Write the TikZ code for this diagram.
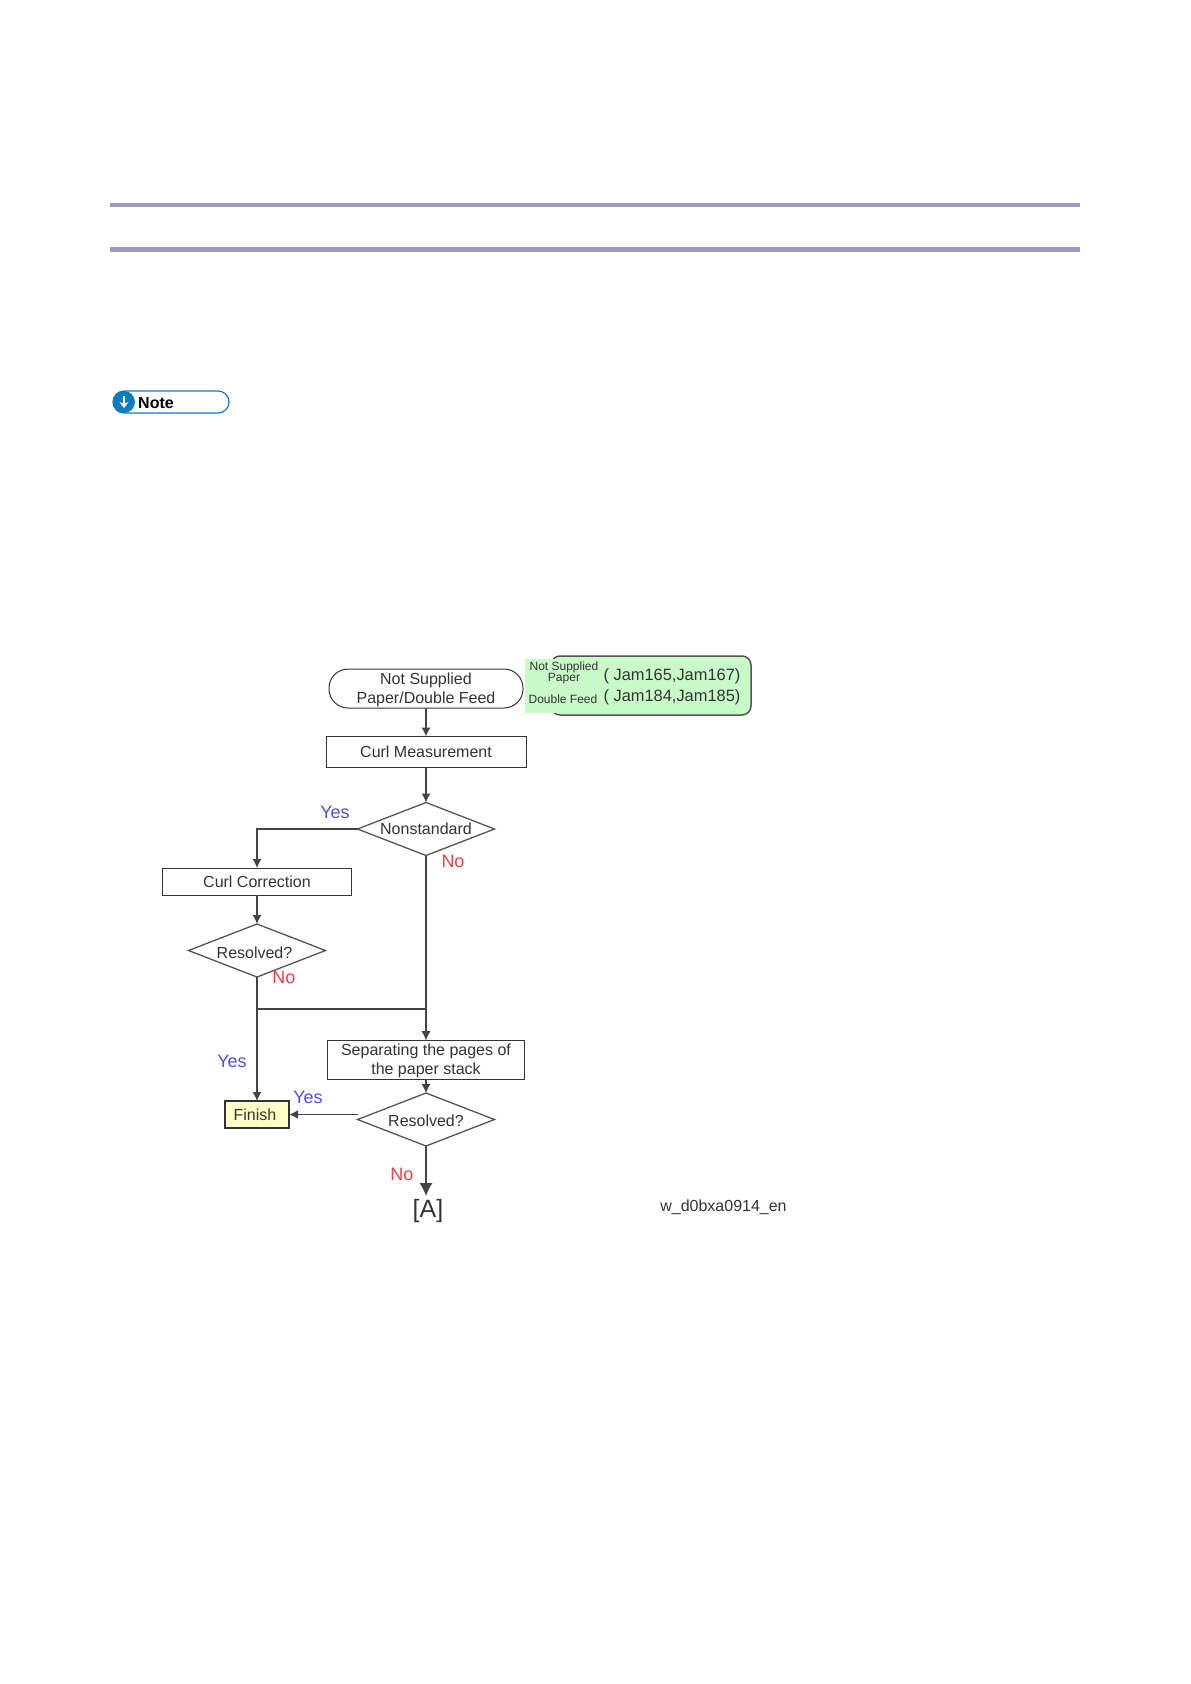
\documentclass[tikz,border=0pt]{standalone}
\usepackage{fontspec}
\setmainfont{Liberation Sans}
\usetikzlibrary{arrows,arrows.meta,shapes.geometric,positioning}
\definecolor{lpurple}{RGB}{158, 152, 198}
\definecolor{lgreen}{RGB}{200, 251, 200}
\definecolor{lyellow}{RGB}{255, 255, 200}
\definecolor{nblue}{RGB}{15, 124, 191}
\definecolor{dgray}{RGB}{51, 51, 51}
\definecolor{mgray}{RGB}{85, 85, 85}
\definecolor{lgray}{RGB}{68, 68, 68}
\newcommand{\px}[1]{\fontsize{#1}{19.5}\selectfont}
\newcommand{\dn}[1]{\rule{0pt}{#1}}
\tikzstyle{base} = [inner sep=0pt, outer sep=0pt, text=dgray, align=center, font=\px{16}]
\tikzstyle{block} = [base, rectangle, draw=dgray, line width=1pt]
\tikzstyle{decision} = [base, diamond, aspect=2.5, draw=mgray, line width=1.3pt,
  minimum width=137pt, minimum height=53pt]
\tikzstyle{line} = [draw=lgray, line width=1.2pt, -{Latex[length=9pt,width=9pt]}]
\tikzstyle{plain} = [draw=lgray, line width=1.2pt]
\tikzstyle{yes} = [inner sep=0pt, text={rgb,255:red,80;green,80;blue,225}, font=\px{18}]
\tikzstyle{no} = [inner sep=0pt, text={rgb,255:red,240;green,64;blue,64}, font=\px{18}]
\tikzstyle{jam} = [inner sep=0pt, text=dgray, font=\px{16.4}]
\tikzstyle{small} = [inner sep=0pt, text=dgray, align=center, font=\fontsize{12}{11}\selectfont]

\begin{document}
\begin{tikzpicture}[x=1pt,y=-1pt]

  \useasboundingbox (0,0) rectangle (1191,1684);

  %%%%%%%%%%%%%%%%%%%%%%%%%%%%%%%%%%%%%%%%%%%%%%%%%%%%%%%%%%%%%%
  %                    PAGE HEADER                             %
  %%%%%%%%%%%%%%%%%%%%%%%%%%%%%%%%%%%%%%%%%%%%%%%%%%%%%%%%%%%%%%

  \fill[lpurple] (110,203) rectangle (1080,207);
  \fill[lpurple] (110,247) rectangle (1080,252);

  \node [rectangle, draw=nblue, line width=1.2pt, rounded corners=11pt, inner sep=0pt,
    minimum width=116pt, minimum height=22pt] (note-pill) at (171,402) {};
  \node [circle, fill=nblue, inner sep=0pt, minimum size=22pt] (note-icon) at (124,402) {};
  \draw[white, line width=2.5pt, -{Stealth[length=6pt,width=9pt]}] (124,396) -- (124,408);
  \node [inner sep=0pt, font=\px{16}\bfseries, text=black] (note-text) at (156,403) {Note};

  %%%%%%%%%%%%%%%%%%%%%%%%%%%%%%%%%%%%%%%%%%%%%%%%%%%%%%%%%%%%%%
  %                    JAM CODES                               %
  %%%%%%%%%%%%%%%%%%%%%%%%%%%%%%%%%%%%%%%%%%%%%%%%%%%%%%%%%%%%%%

  \node [rectangle, rounded corners=9pt, draw=mgray, line width=1.5pt, fill=lgreen,
    inner sep=0pt, minimum width=200pt, minimum height=59pt] (jam-box) at (651,685.5) {};
  \fill[lgreen] (525,659) rectangle (562,713);
  \node [small] (jam-paper) at (564,672.5) {Not Supplied\\Paper};
  \node [small] (jam-feed) at (563,699) {Double Feed};
  \node [jam] (jam-paper-codes) at (672,676) {( Jam165,Jam167)};
  \node [jam] (jam-feed-codes) at (672,697) {( Jam184,Jam185)};

  %%%%%%%%%%%%%%%%%%%%%%%%%%%%%%%%%%%%%%%%%%%%%%%%%%%%%%%%%%%%%%
  %                    FLOW                                    %
  %%%%%%%%%%%%%%%%%%%%%%%%%%%%%%%%%%%%%%%%%%%%%%%%%%%%%%%%%%%%%%

  \node [block, rounded corners=19pt, minimum width=194pt, minimum height=39pt]
    (start) at (426,688.5) {\dn{14pt}Not Supplied\\Paper/Double Feed};
  \node [block, minimum width=200pt, minimum height=31pt]
    (curl-measurement) at (426,752) {Curl Measurement};
  \node [decision] (nonstandard) at (426,829) {Nonstandard};
  \node [block, minimum width=189pt, minimum height=27pt]
    (curl-correction) at (257,881.5) {Curl Correction};
  \node [decision] (resolved-first) at (257,950.5) {\dn{16pt}Resolved?\hspace*{5pt}};
  \node [block, minimum width=197pt, minimum height=39pt]
    (separating) at (426,1059.5) {\dn{14.5pt}Separating the pages of\\the paper stack};
  \node [decision] (resolved-second) at (426,1119.5) {\dn{14pt}Resolved?};
  \node [block, fill=lyellow, line width=1.5pt, minimum width=64pt, minimum height=27pt]
    (finish) at (257,1114.5) {Finish\hspace*{4pt}};
  \node [inner sep=0pt, text=dgray, font=\px{25}] (result) at (428,1211) {[A]};
  \node [inner sep=0pt, text=dgray, font=\px{16}] (drawing-id) at (723.5,1207) {w\_d0bxa0914\_en};

  \coordinate (merge) at (257,1009);
  \coordinate (resolved-yes) at (358,1114.5);

  \draw[line] (start) -- (curl-measurement);
  \draw[line] (curl-measurement) -- (nonstandard);
  \draw[line] (nonstandard.west) -| (curl-correction.north);
  \draw[line] (curl-correction) -- (resolved-first);
  \draw[line] (nonstandard.south) -- (separating.north);
  \draw[plain, line width=1.8pt] (resolved-first.south) -- (merge);
  \draw[line] (merge) -- (finish.north);
  \draw[line] (merge) -| (separating.north);
  \draw[line] (separating) -- (resolved-second);
  \draw[line, line width=1.6pt] (resolved-yes) -- (finish.east);
  \draw[draw=lgray, line width=1.6pt, shorten >=3pt, -{Latex[length=13pt,width=13pt]}]
    (resolved-second.south) -- (resolved-second.south |- result.north);

  %%%%%%%%%%%%%%%%%%%%%%%%%%%%%%%%%%%%%%%%%%%%%%%%%%%%%%%%%%%%%%
  %                    BRANCH LABELS                           %
  %%%%%%%%%%%%%%%%%%%%%%%%%%%%%%%%%%%%%%%%%%%%%%%%%%%%%%%%%%%%%%

  \node [yes] (yes-nonstandard) at (335,812) {Yes};
  \node [no] (no-nonstandard) at (453,861) {No};
  \node [no] (no-resolved-first) at (284,977) {No};
  \node [yes] (yes-resolved-first) at (232,1061) {Yes};
  \node [yes] (yes-resolved-second) at (308,1097) {Yes};
  \node [no] (no-resolved-second) at (402,1174) {No};

\end{tikzpicture}
\end{document}
